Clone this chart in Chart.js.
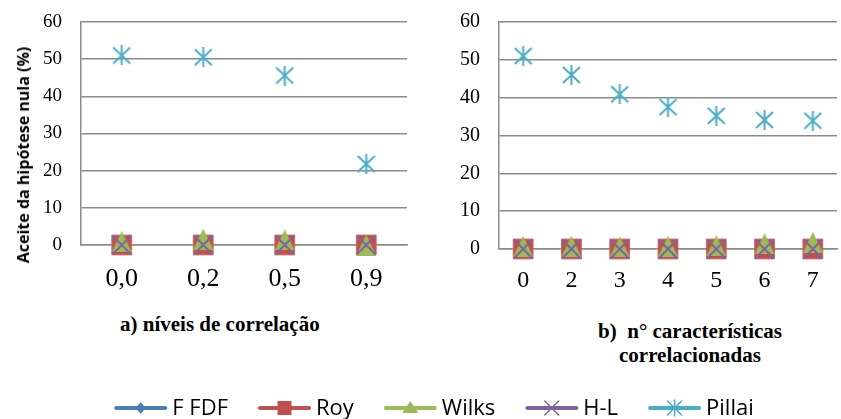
<!DOCTYPE html>
<html>
<head>
<meta charset="utf-8">
<script src="https://cdn.jsdelivr.net/npm/chart.js@4.4.1/dist/chart.umd.min.js"></script>
<style>
  html, body { margin: 0; padding: 0; background: #fff; }
  body { width: 841px; height: 419px; overflow: hidden; position: relative; }
  #boxA { position: absolute; left: 0; top: 0; width: 422px; height: 300px; }
  #boxB { position: absolute; left: 420px; top: 0; width: 432px; height: 300px; }
  #ytitle { position: absolute; left: 23px; top: 155px; width: 0; height: 0; }
  #ytitle span { position: absolute; left: 0; top: 0; transform: translate(-50%, -50%) rotate(-90deg);
            font: bold 16px "Open Sans"; line-height: 20px; white-space: nowrap; color: #000; }
  .sub { position: absolute; font: bold 21px "Liberation Serif"; color: #000; white-space: pre; line-height: 24px; text-align: center; }
  #subA { left: 120px; top: 312px; }
  #subB { left: 590px; top: 319px; width: 200px; }
  #legend { position: absolute; left: 0; top: 390px; }
</style>
</head>
<body>
<div id="boxA"><canvas id="chartA"></canvas></div>
<div id="boxB"><canvas id="chartB"></canvas></div>
<div id="ytitle"><span>Aceite da hipótese nula (%)</span></div>
<div class="sub" id="subA">a) níveis de correlação</div>
<div class="sub" id="subB">b)  n° características
correlacionadas</div>
<canvas id="legend" width="841" height="29"></canvas>
<script>
// categories
const labelsA = ['0,0', '0,2', '0,5', '0,9'];
const labelsB = ['0', '2', '3', '4', '5', '6', '7'];
const seriesNames = ['F FDF', 'Roy', 'Wilks', 'H-L', 'Pillai'];

// a) correlation levels
const fdfA = [0, 0, 0, 0];
const royA = [0, 0, 0, 0];
const wilksA = [0.9, 1.6, 1.35, 0];
const hlA = [0, 0, 0, 0];
const pillaiA = [51, 50.5, 45.6, 21.8];

// b) number of correlated traits
const fdfB = [0, 0, 0, 0, 0, 0, 0];
const royB = [0, 0, 0, 0, 0, 0, 0];
const wilksB = [0.7, 0.7, 0.6, 0.7, 0.85, 1.4, 1.75];
const hlB = [0, 0, 0, 0, 0, 0, 0];
const pillaiB = [51, 46, 40.9, 37.5, 35.2, 34.1, 33.9];

const yMin = 0, yMax = 60, yStep = 10;

const colors = ['#4a7ebb', '#c0504d', '#9bbb59', '#8064a2', '#4bacc6'];
const gridColor = '#8a8a8a';

function markCanvas(w, h, draw) {
  const c = document.createElement('canvas');
  c.width = w; c.height = h;
  draw(c.getContext('2d'), w, h);
  return c;
}
// excel-like triangle and asterisk markers
const triMark = markCanvas(20, 21, (g, w, h) => {
  g.fillStyle = colors[2];
  g.beginPath(); g.moveTo(w / 2, 0); g.lineTo(w, h); g.lineTo(0, h); g.closePath(); g.fill();
});
const starMark = markCanvas(19, 20, (g, w, h) => {
  g.strokeStyle = colors[4]; g.lineWidth = 2;
  g.beginPath();
  g.moveTo(w / 2, 0); g.lineTo(w / 2, h);
  g.moveTo(1, 2); g.lineTo(w - 1, h - 2);
  g.moveTo(w - 1, 2); g.lineTo(1, h - 2);
  g.stroke();
});

function makeSets(fdf, roy, wilks, hl, pillai) {
  const base = { showLine: false, clip: false, pointBorderWidth: 1 };
  return [
    { ...base, label: seriesNames[0], data: fdf, order: 5, pointStyle: 'rectRot', pointRadius: 9,
      pointBackgroundColor: colors[0], pointBorderColor: colors[0], borderColor: colors[0] },
    { ...base, label: seriesNames[1], data: roy, order: 4, pointStyle: 'rect', pointRadius: 14,
      pointBackgroundColor: colors[1], pointBorderColor: '#c96a67', borderColor: colors[1] },
    { ...base, label: seriesNames[2], data: wilks, order: 3, pointStyle: triMark, pointRadius: 10,
      pointBackgroundColor: colors[2], borderColor: colors[2] },
    { ...base, label: seriesNames[3], data: hl, order: 2, pointStyle: 'crossRot', pointRadius: 13,
      pointBorderWidth: 2, pointBorderColor: colors[3], borderColor: colors[3] },
    { ...base, label: seriesNames[4], data: pillai, order: 1, pointStyle: starMark, pointRadius: 10,
      borderColor: colors[4] }
  ];
}

function makeChart(id, labels, sets, yw, xh, yFont, xFont, xPad) {
  return new Chart(document.getElementById(id), {
    type: 'line',
    data: { labels: labels, datasets: sets },
    options: {
      responsive: true,
      maintainAspectRatio: false,
      animation: false,
      events: [],
      layout: { padding: { top: 22, left: 0, right: 0, bottom: 0 } },
      plugins: { legend: { display: false }, tooltip: { enabled: false } },
      scales: {
        x: {
          offset: true,
          grid: { display: false, drawTicks: false },
          border: { color: gridColor, width: 1.5 },
          ticks: { color: '#000', padding: xPad, font: { family: '"Liberation Serif"', size: xFont } },
          afterFit: s => { s.height = xh; s.paddingLeft = 0; s.paddingRight = 0; }
        },
        y: {
          min: yMin, max: yMax,
          grid: { color: gridColor, lineWidth: 1.5, drawTicks: false },
          border: { color: gridColor, width: 1.5 },
          ticks: { stepSize: yStep, color: '#000', padding: 19, font: { family: '"Liberation Serif"', size: yFont } },
          // fixed axis width, and no extra room reserved above the top tick
          afterFit: s => { s.width = yw; s.paddingTop = 0; s.paddingBottom = 0; }
        }
      }
    }
  });
}

makeChart('chartA', labelsA, makeSets(fdfA, royA, wilksA, hlA, pillaiA), 81, 55, 19, 26, 19);
makeChart('chartB', labelsB, makeSets(fdfB, royB, wilksB, hlB, pillaiB), 79, 51, 20, 24, 17);

// shared legend: line with marker, then the name
(function drawLegend() {
  const g = document.getElementById('legend').getContext('2d');
  g.font = '22px "Open Sans"';
  g.textBaseline = 'middle';
  const lineLen = 53, gapText = 5, gapItem = 30, y = 18;
  const widths = seriesNames.map(n => g.measureText(n).width);
  let total = 0;
  widths.forEach(w => { total += lineLen + gapText + w; });
  total += gapItem * (seriesNames.length - 1);
  let x = 434 - total / 2;
  seriesNames.forEach((name, i) => {
    const c = colors[i];
    g.strokeStyle = c; g.fillStyle = c; g.lineWidth = 4; g.lineCap = 'round';
    g.beginPath(); g.moveTo(x + 2, y); g.lineTo(x + lineLen - 2, y); g.stroke();
    const cx = x + lineLen / 2;
    g.lineWidth = 1.5;
    g.beginPath();
    if (i === 0) {
      g.moveTo(cx, y - 6); g.lineTo(cx + 5, y); g.lineTo(cx, y + 6); g.lineTo(cx - 5, y); g.closePath(); g.fill();
    } else if (i === 1) {
      g.fillRect(cx - 7, y - 7, 14, 14);
    } else if (i === 2) {
      g.moveTo(cx, y - 7); g.lineTo(cx + 8, y + 5); g.lineTo(cx - 8, y + 5); g.closePath(); g.fill();
    } else if (i === 3) {
      g.moveTo(cx - 7, y - 7); g.lineTo(cx + 7, y + 7); g.moveTo(cx + 7, y - 7); g.lineTo(cx - 7, y + 7); g.stroke();
    } else {
      g.moveTo(cx, y - 8); g.lineTo(cx, y + 8);
      g.moveTo(cx - 7, y - 7); g.lineTo(cx + 7, y + 7); g.moveTo(cx + 7, y - 7); g.lineTo(cx - 7, y + 7); g.stroke();
    }
    g.fillStyle = '#000';
    g.fillText(name, x + lineLen + gapText, y + 1);
    x += lineLen + gapText + widths[i] + gapItem;
  });
})();
</script>
</body>
</html>
